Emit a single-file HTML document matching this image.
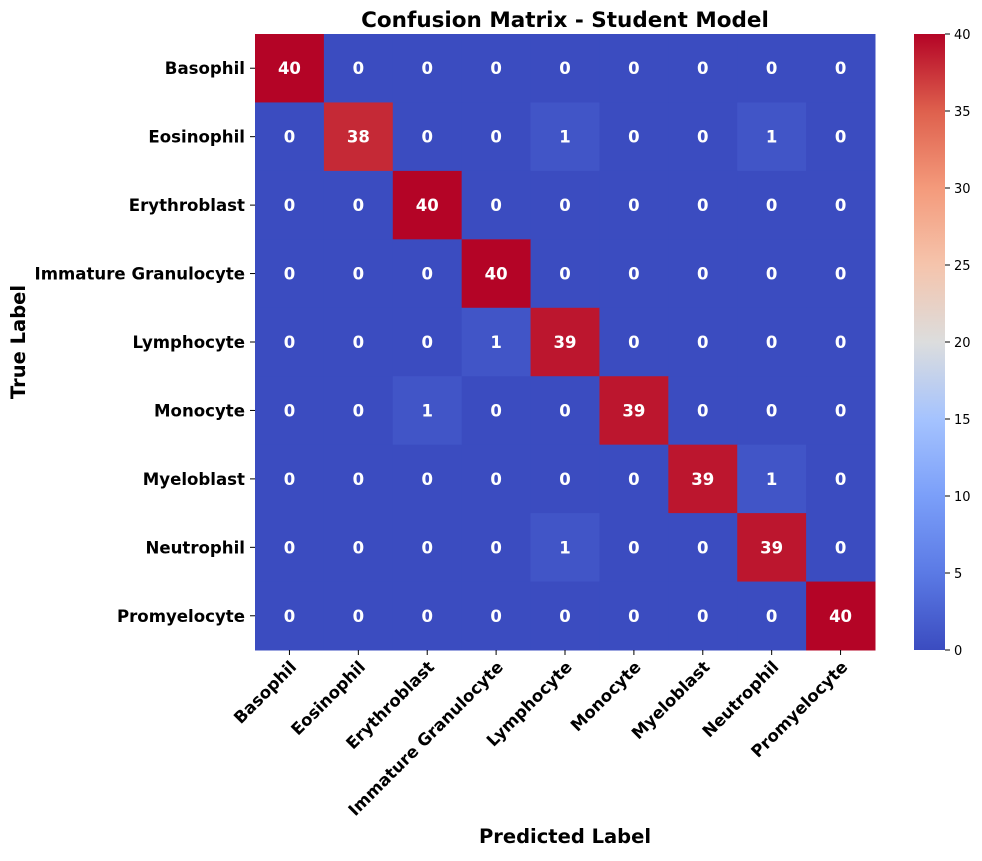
<!DOCTYPE html>
<html><head><meta charset="utf-8"><style>
body{margin:0;background:#fff;}
svg text{font-family:"DejaVu Sans","Liberation Sans",sans-serif;}
</style></head><body>
<svg id="chart" width="982" height="856" xmlns="http://www.w3.org/2000/svg">
<defs><linearGradient id="cbgrad" x1="0" y1="1" x2="0" y2="0">
<stop offset="0" stop-color="#3b4cc0"/><stop offset="0.125" stop-color="#5b7ae5"/><stop offset="0.25" stop-color="#7b9ff9"/><stop offset="0.375" stop-color="#a5c3fe"/><stop offset="0.5" stop-color="#dcdddd"/><stop offset="0.625" stop-color="#f5c4ac"/><stop offset="0.75" stop-color="#f49a7b"/><stop offset="0.875" stop-color="#de604d"/><stop offset="1" stop-color="#b40426"/>
</linearGradient></defs>
<text x="565" y="27" text-anchor="middle" font-size="21.5" font-weight="bold">Confusion Matrix - Student Model</text>
<g id="cells"></g>
<g id="ylabels"></g>
<g id="xlabels"></g>
<text x="565" y="843" text-anchor="middle" font-size="19.5" font-weight="bold">Predicted Label</text>
<text transform="translate(25,342) rotate(-90)" text-anchor="middle" font-size="19.5" font-weight="bold">True Label</text>
<rect x="914" y="34" width="31" height="616" fill="url(#cbgrad)"/>
<g id="cbticks"></g>
</svg>
<script>
const classes=["Basophil","Eosinophil","Erythroblast","Immature Granulocyte","Lymphocyte","Monocyte","Myeloblast","Neutrophil","Promyelocyte"];
const matrix=[
[40,0,0,0,0,0,0,0,0],
[0,38,0,0,1,0,0,1,0],
[0,0,40,0,0,0,0,0,0],
[0,0,0,40,0,0,0,0,0],
[0,0,0,1,39,0,0,0,0],
[0,0,1,0,0,39,0,0,0],
[0,0,0,0,0,0,39,1,0],
[0,0,0,0,1,0,0,39,0],
[0,0,0,0,0,0,0,0,40]];
const cbTicks=[0,5,10,15,20,25,30,35,40];
const vmin=0,vmax=40;
const L=255,T=34,W=620,H=616;
const NS="http://www.w3.org/2000/svg";
const stops=[[0,[59,76,192]],[0.125,[91,122,229]],[0.25,[123,159,249]],[0.375,[165,195,254]],[0.5,[220,221,221]],[0.625,[245,196,172]],[0.75,[244,154,123]],[0.875,[222,96,77]],[1,[180,4,38]]];
function cmap(v){let t=(v-vmin)/(vmax-vmin);t=Math.max(0,Math.min(1,t));
for(let i=1;i<stops.length;i++){if(t<=stops[i][0]){const a=stops[i-1],b=stops[i];const f=(t-a[0])/(b[0]-a[0]);
const c=a[1].map((x,k)=>Math.round(x+(b[1][k]-x)*f));return `rgb(${c})`;}}return "rgb(180,4,38)";}
const n=classes.length,cw=W/n,ch=H/n;
const xs=i=>L+i*cw, ys=i=>T+i*ch;
const cells=document.getElementById('cells');
function mk(tag,attrs,parent){const e=document.createElementNS(NS,tag);for(const k in attrs)e.setAttribute(k,attrs[k]);parent.appendChild(e);return e;}
matrix.forEach((row,r)=>row.forEach((v,c)=>{
const rect=mk('rect',{x:xs(c),y:ys(r),width:cw+0.5,height:ch+0.5,fill:cmap(v)},cells);


const t=mk('text',{x:xs(c)+cw/2,y:ys(r)+ch/2+6,'text-anchor':'middle','font-size':16.5,'font-weight':'bold',fill:'#fff'},cells);
t.textContent=v;


}));
const yl=document.getElementById('ylabels'),xl=document.getElementById('xlabels');
classes.forEach((name,i)=>{
const cy=ys(i)+ch/2;
mk('line',{x1:L-5,x2:L,y1:cy,y2:cy,stroke:'#000'},yl);
const t=mk('text',{x:L-10,y:cy+6,'text-anchor':'end','font-size':16.6,'font-weight':'bold'},yl);
t.textContent=name;


const cx=xs(i)+cw/2;
mk('line',{x1:cx,x2:cx,y1:T+H,y2:T+H+5,stroke:'#000'},xl);
const u=mk('text',{x:cx+8,y:T+H+18,'text-anchor':'end','font-size':16.6,'font-weight':'bold',transform:`rotate(-45 ${cx+8} ${T+H+18})`},xl);
u.textContent=name;


});
const cb=document.getElementById('cbticks');
cbTicks.forEach(v=>{
const y=T+H-(v-vmin)/(vmax-vmin)*H;
mk('line',{x1:945,x2:950,y1:y,y2:y,stroke:'#000'},cb);
const t=mk('text',{x:954,y:y+5,'font-size':13},cb);
t.textContent=v;


});
</script>
</body></html>
